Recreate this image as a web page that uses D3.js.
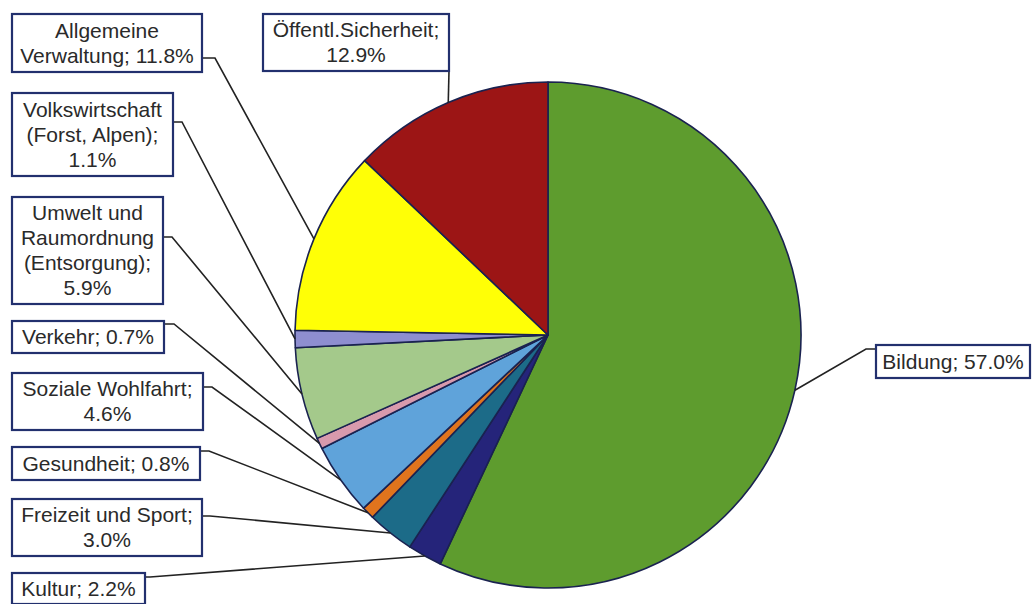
<!DOCTYPE html>
<html><head><meta charset="utf-8">
<script src="https://cdn.jsdelivr.net/npm/d3@7"></script>
<style>html,body{margin:0;padding:0;background:#fff;}svg{display:block;}</style>
</head><body>
<svg id="chart" width="1032" height="604"></svg>
<script>
// ---- data ----
const categories = ["Bildung","Kultur","Freizeit und Sport","Gesundheit","Soziale Wohlfahrt","Verkehr","Umwelt und Raumordnung (Entsorgung)","Volkswirtschaft (Forst, Alpen)","Allgemeine Verwaltung","Öffentl.Sicherheit"];
const values = [57.0, 2.2, 3.0, 0.8, 4.6, 0.7, 5.9, 1.1, 11.8, 12.9];
const labelLines = [
  ["Bildung; 57.0%"],
  ["Kultur; 2.2%"],
  ["Freizeit und Sport;","3.0%"],
  ["Gesundheit; 0.8%"],
  ["Soziale Wohlfahrt;","4.6%"],
  ["Verkehr; 0.7%"],
  ["Umwelt und","Raumordnung","(Entsorgung);","5.9%"],
  ["Volkswirtschaft","(Forst, Alpen);","1.1%"],
  ["Allgemeine","Verwaltung; 11.8%"],
  ["Öffentl.Sicherheit;","12.9%"]
];
// ---- styles / layout ----
const colors = ["#5e9c2e","#25247a","#1c6b88","#e0741d","#5fa3da","#d89aad","#a4c98b","#8e8ed0","#ffff06","#9c1515"];
// label boxes: x, y, w, h, attach side, attach y, elbow x
const boxes = [
  {x:876,y:345,w:154,h:33, side:"left", ay:349, ex:866},
  {x:12,y:573,w:133,h:31, side:"right", ay:577, ex:150},
  {x:12,y:499,w:190,h:57, side:"right", ay:516, ex:210},
  {x:12,y:447,w:188,h:33, side:"right", ay:451, ex:209},
  {x:12,y:373,w:191,h:57, side:"right", ay:387, ex:212},
  {x:12,y:321,w:152,h:32, side:"right", ay:324, ex:174},
  {x:12,y:197,w:151,h:107, side:"right", ay:237, ex:172},
  {x:12,y:93,w:161,h:83, side:"right", ay:122, ex:182},
  {x:12,y:14,w:190,h:58, side:"right", ay:58, ex:215},
  {x:263,y:14,w:186,h:57, side:"bottom", ay:71, ex:449}
];
const cx = 548, cy = 335, r = 253;
const fontSize = 21, lineH = 25;

const svg = d3.select("#chart");
const pie = d3.pie().sort(null).value(d => d)(values);
const arc = d3.arc().innerRadius(0).outerRadius(r);
const g = svg.append("g").attr("transform", `translate(${cx},${cy})`);
g.selectAll("path").data(pie).join("path")
  .attr("d", arc)
  .attr("fill", (d,i) => colors[i])
  .attr("stroke", "#1a2250")
  .attr("stroke-width", 1.6)
  .attr("stroke-linejoin","round");

// leader lines
const lines = svg.append("g");
pie.forEach((d,i) => {
  const a = (d.startAngle + d.endAngle) / 2;
  const px = cx + r * Math.sin(a), py = cy - r * Math.cos(a);
  const b = boxes[i];
  let pts;
  if (b.side === "bottom") pts = [[b.ex, b.ay],[px, py]];
  else if (b.side === "left") pts = [[b.x, b.ay],[b.ex, b.ay],[px, py]];
  else pts = [[b.x + b.w, b.ay],[b.ex, b.ay],[px, py]];
  lines.append("path").attr("d", d3.line()(pts))
    .attr("fill","none").attr("stroke","#222").attr("stroke-width",1.6);
});

// label boxes
const lg = svg.append("g");
boxes.forEach((b,i) => {
  lg.append("rect").attr("x",b.x).attr("y",b.y).attr("width",b.w).attr("height",b.h)
    .attr("fill","#fff").attr("stroke","#22306e").attr("stroke-width",2.2);
  const n = labelLines[i].length;
  const top = b.y + (b.h - n*lineH)/2;
  const t = lg.append("text").attr("text-anchor","middle")
    .attr("font-family","'Liberation Sans', Arial, sans-serif")
    .attr("font-size",fontSize).attr("fill","#2a2a2a");
  labelLines[i].forEach((s,k) => {
    t.append("tspan").attr("x", b.x + b.w/2).attr("y", top + k*lineH + lineH*0.78).text(s);
  });
});
</script>
</body></html>
